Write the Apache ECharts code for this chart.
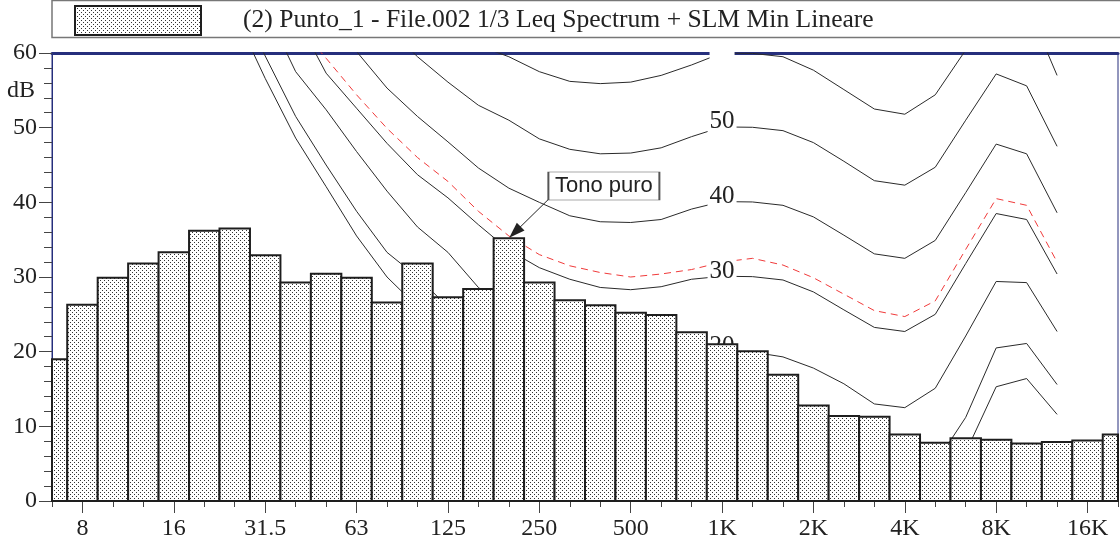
<!DOCTYPE html>
<html>
<head>
<meta charset="utf-8">
<script src="https://cdn.jsdelivr.net/npm/echarts@6/dist/echarts.min.js"></script>
<style>
  html, body { margin: 0; padding: 0; background: #fff; }
  #chart { width: 1120px; height: 541px; }
</style>
</head>
<body>
<div id="chart"></div>
<script>
// 1/3 octave band centres, 6.3 Hz .. 20 kHz
const freqs = ['6.3', '8', '10', '12.5', '16', '20', '25', '31.5', '40', '50', '63', '80', '100', '125', '160', '200',
  '250', '315', '400', '500', '630', '800', '1K', '1.25K', '1.6K', '2K', '2.5K', '3.15K', '4K', '5K', '6.3K', '8K',
  '10K', '12.5K', '16K', '20K'];

// Leq spectrum (dB)
const leq = [19.0, 26.3, 29.9, 31.8, 33.3, 36.2, 36.5, 32.9, 29.25, 30.45, 29.9, 26.6, 31.8, 27.3, 28.4, 35.2,
  29.25, 26.9, 26.2, 25.2, 24.9, 22.6, 21.0, 20.05, 16.9, 12.8, 11.4, 11.3, 8.9, 7.8, 8.4, 8.2, 7.7, 7.9, 8.1, 8.9];

// isophonic curves, 20 Hz .. 12.5 kHz (null outside)
const _ = null;
const curveMin = [_, _, _, _, _, 74, 65.3, 56.6, 48.6, 42.1, 35.5, 30.0, 26, 22, 18, 15, 12, 9.5, 7.5, 6, 5, 4.5, 4, 4,
  3, 1.5, 0.5, 0, 0, 1.5, 6.5, 15.3, 16.4, 11.6, _, _];
const curve10 = [_, _, _, _, _, 77, 68, 59.6, 51.5, 45, 38.8, 33.3, 30, 26, 22, 19, 16.5, 14.5, 13, 12, 11, 10.5, 10, 10,
  8.5, 6, 4, 3, 3, 5, 11.2, 20.5, 21.1, 15.6, _, _];
const curve20 = [_, _, _, _, _, 86, 77, 66, 57.5, 52.4, 46.8, 41.5, 36.7, 33.3, 28.6, 25.5, 23.5, 22, 21, 20.5, 20.3,
  20.3, 20, 19.95, 19.3, 17.8, 15.7, 13.0, 12.5, 15.1, 22.1, 29.4, 29.25, 22.7, _, _];
const curve30 = [_, _, _, _, _, 92, 83, 74, 65, 57.3, 52.6, 47.9, 43.7, 40.6, 37.0, 33.6, 31.25, 29.7, 28.6, 28.3, 28.7,
  29.7, 30.1, 30.05, 29.6, 28.0, 25.6, 23.25, 22.7, 25.0, 31.8, 38.5, 37.7, 30.4, _, _];
const curveTone = [_, _, _, _, _, 94, 85, 76, 64, 59.3, 54.4, 49.9, 46.0, 42.8, 38.8, 35.5, 33.0, 31.5, 30.6, 30.0, 30.4,
  31.0, 32.0, 32.5, 31.6, 29.9, 27.7, 25.5, 24.7, 26.8, 33.7, 40.5, 39.6, 32.0, _, _];
const curve40 = [_, _, _, _, _, 99, 90, 81, 73, 66, 60.2, 55.3, 51.5, 48.1, 44.6, 41.9, 40.0, 38.2, 37.4, 37.3, 37.7,
  39.1, 40.1, 40.05, 39.6, 38.05, 35.6, 33.1, 32.5, 34.9, 41.3, 47.8, 46.5, 38.6, _, _];
const curve50 = [_, _, _, _, _, 106, 98, 90, 82, 76, 70, 63.5, 59.5, 56.1, 53.0, 51.0, 48.5, 47.1, 46.5, 46.6, 47.3,
  48.8, 50.1, 50.05, 49.6, 48.0, 45.5, 42.9, 42.3, 44.7, 51, 57.2, 55.6, 47.5, _, _];
const curve60 = [_, _, _, _, _, 113, 105, 97, 89, 82, 76, 71, 67, 63, 61, 59.5, 57.5, 56.2, 55.9, 56.1, 57.0, 58.4, 60,
  59.95, 59.5, 57.7, 55.1, 52.5, 51.8, 54.4, 60.4, 67.5, 66.6, 57.0, _, _];

// annotation (x in band index, y in dB)
const toneArrowFrom = [16.29, 40.36];
const toneArrowTo = [15.2, 36.0];
const toneBox = [18.12, 42.2];

const serif = "'Liberation Serif', 'Times New Roman', serif";
const sans = "'Liberation Sans', Arial, sans-serif";
const navy = '#262f7c';
const seriesName = '(2) Punto_1 - File.002 1/3 Leq Spectrum + SLM Min Lineare';
const labelled = (i) => i % 3 === 1;

// dotted fill
const dots = document.createElement('canvas');
dots.width = 4;
dots.height = 4;
const ctx = dots.getContext('2d');
ctx.fillStyle = '#fff';
ctx.fillRect(0, 0, 4, 4);
ctx.fillStyle = '#333';
ctx.fillRect(0, 0, 1, 1);
ctx.fillRect(2, 2, 1, 1);
const dotFill = { image: dots, repeat: 'repeat' };
const barBorder = '#1e1e1e';

// bars are cut at the plot edges (first and last band are half visible)
const renderBand = (params, api) => {
  const top = api.coord([api.value(0), api.value(1)]);
  const base = api.coord([api.value(0), 0]);
  const w = api.size([1, 0])[0];
  const cs = params.coordSys;
  const shape = echarts.graphic.clipRectByRect(
    { x: top[0] - w / 2, y: top[1], width: w, height: base[1] - top[1] },
    { x: cs.x, y: cs.y, width: cs.width, height: cs.height }
  );
  if (!shape) return null;
  return {
    type: 'rect',
    shape,
    style: { fill: dotFill, stroke: barBorder, lineWidth: 2 },
  };
};

const curve = (data, tag, red) => ({
  type: 'line',
  data: data.map((v, i) => (tag && i === 22 ? { value: v, label: { show: true, formatter: tag } } : v)),
  symbol: 'circle',
  symbolSize: 0,
  showSymbol: true,
  showAllSymbol: true,
  silent: true,
  z: 2,
  lineStyle: red ? { color: '#f03a3a', width: 1, type: [7, 5] } : { color: '#2a2a2a', width: 1 },
  itemStyle: { color: 'transparent' },
  label: {
    show: false,
    position: 'inside',
    offset: [0, -5],
    backgroundColor: '#fff',
    padding: [0, 2],
    fontFamily: serif,
    fontSize: 25,
    color: '#222',
  },
});

// the 60 label sits on the top border and only its white box shows
const top60 = curve(curve60, '60');
top60.label.offset = [0, 0];
top60.label.color = '#fff';
top60.label.padding = [0, 0];

const option = {
  animation: false,
  backgroundColor: '#fff',
  grid: { left: 52, right: 2, top: 53, bottom: 38, show: true, borderColor: navy, borderWidth: 1 },
  legend: {
    data: [seriesName],
    left: 74,
    top: 5,
    padding: 0,
    icon: 'rect',
    itemWidth: 126,
    itemHeight: 29,
    itemStyle: { color: dotFill, borderColor: barBorder, borderWidth: 2 },
    textStyle: { fontFamily: serif, fontSize: 25.6, color: '#222', padding: [0, 0, 0, 37] },
    selectedMode: false,
  },
  graphic: [{
    type: 'rect',
    shape: { x: 52, y: 0.5, width: 1080, height: 37 },
    style: { fill: 'none', stroke: '#777', lineWidth: 1.5 },
    silent: true,
  }],
  xAxis: [
    {
      type: 'category', data: freqs, boundaryGap: false, position: 'bottom',
      axisLine: { lineStyle: { color: navy, width: 1 } },
      axisTick: { interval: 0, length: 6, lineStyle: { color: '#444' } },
      axisLabel: { show: false },
      splitLine: { show: false },
    },
    {
      type: 'category', data: freqs, boundaryGap: false, position: 'bottom',
      axisLine: { show: false },
      axisTick: { interval: labelled, length: 12, lineStyle: { color: '#444' } },
      axisLabel: { interval: labelled, margin: 16, fontFamily: serif, fontSize: 24, color: '#222' },
      splitLine: { show: false },
    },
    { type: 'value', min: 0, max: 35, show: false, position: 'bottom' },
    {
      type: 'category', data: freqs, boundaryGap: false, position: 'top',
      axisLine: { lineStyle: { color: navy, width: 3 } },
      axisTick: { show: false },
      axisLabel: { show: false },
      splitLine: { show: false },
    },
  ],
  yAxis: {
    type: 'value', min: 0, max: 60, interval: 10,
    name: 'dB', nameLocation: 'end', nameGap: -38,
    nameTextStyle: { fontFamily: serif, fontSize: 24, color: '#222', align: 'right', verticalAlign: 'middle', padding: [0, 17, 0, 0] },
    axisLine: { show: true, lineStyle: { color: navy, width: 1 } },
    axisTick: { show: true, length: 13, lineStyle: { color: '#444' } },
    minorTick: { show: true, splitNumber: 5, length: 8, lineStyle: { color: '#444' } },
    axisLabel: { margin: 15, fontFamily: serif, fontSize: 24, color: '#222' },
    splitLine: { show: false },
  },
  series: [
    curve(curveMin),
    curve(curve10),
    curve(curve20, '20'),
    curve(curve30, '30'),
    curve(curveTone, null, true),
    curve(curve40, '40'),
    curve(curve50, '50'),
    top60,
    {
      name: seriesName,
      type: 'custom',
      data: leq.map((v, i) => [i, v]),
      encode: { x: 0, y: 1 },
      renderItem: renderBand,
      z: 3,
      silent: true,
      itemStyle: { color: dotFill, borderColor: barBorder, borderWidth: 2 },
    },
    {
      type: 'line',
      xAxisIndex: 2,
      data: [],
      symbol: 'none',
      silent: true,
      z: 5,
      markLine: {
        silent: true,
        symbol: ['none', 'triangle'],
        symbolSize: [11, 16],
        label: { show: false },
        lineStyle: { color: '#222', width: 1, type: 'solid' },
        data: [[{ coord: toneArrowFrom }, { coord: toneArrowTo }]],
      },
      markPoint: {
        silent: true,
        symbol: 'rect',
        symbolSize: [111, 28],
        itemStyle: { color: '#fff', borderColor: '#555', borderWidth: 1 },
        label: { show: true, position: 'inside', formatter: 'Tono puro', fontFamily: sans, fontSize: 22, color: '#222' },
        data: [{ coord: toneBox }],
      },
    },
  ],
};

echarts.init(document.getElementById('chart')).setOption(option);
</script>
</body>
</html>
